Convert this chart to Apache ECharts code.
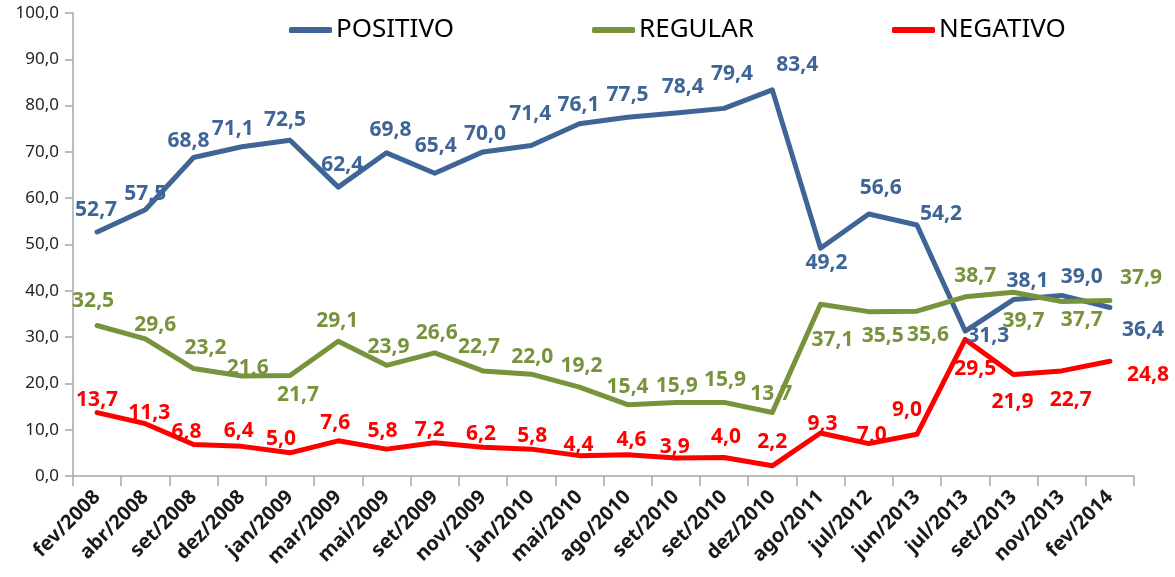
<!DOCTYPE html>
<html>
<head>
<meta charset="utf-8">
<script src="https://cdn.jsdelivr.net/npm/echarts@6/dist/echarts.min.js"></script>
<style>html,body{margin:0;padding:0;background:#fff}#c{width:1175px;height:577px}</style>
</head>
<body>
<div id="c"></div>
<script>
const categories = ['fev/2008','abr/2008','set/2008','dez/2008','jan/2009','mar/2009','mai/2009','set/2009','nov/2009','jan/2010','mai/2010','ago/2010','set/2010','set/2010','dez/2010','ago/2011','jul/2012','jun/2013','jul/2013','set/2013','nov/2013','fev/2014'];
const positivo = [52.7,57.5,68.8,71.1,72.5,62.4,69.8,65.4,70.0,71.4,76.1,77.5,78.4,79.4,83.4,49.2,56.6,54.2,31.3,38.1,39.0,36.4];
const regular  = [32.5,29.6,23.2,21.6,21.7,29.1,23.9,26.6,22.7,22.0,19.2,15.4,15.9,15.9,13.7,37.1,35.5,35.6,38.7,39.7,37.7,37.9];
const negativo = [13.7,11.3,6.8,6.4,5.0,7.6,5.8,7.2,6.2,5.8,4.4,4.6,3.9,4.0,2.2,9.3,7.0,9.0,29.5,21.9,22.7,24.8];
const seriesNames = ['POSITIVO','REGULAR','NEGATIVO'];
const yTicks = {min:0, max:100, interval:10};

// label centre offsets from each point, in pixels [dx, dy] (styling only)
const posOffsets = [[-1,-22],[0,-16],[-5,-16],[-9,-18],[-5,-20],[4,-22],[4,-23],[1,-27],[2,-18],[-1,-31],[-1,-19],[0,-22],[7,-26],[8,-34],[25,-25],[6,15],[12,-26],[24,-11],[23,5],[14,-19],[20,-18],[33,23]];
const regOffsets = [[-4,-25],[10,-14],[12,-21],[6,-8],[8,19],[-1,-20],[2,-18],[2,-20],[-4,-24],[1,-17],[2,-21],[0,-18],[1,-16],[1,-22],[-1,-19],[12,36],[14,24],[11,24],[10,-21],[10,29],[20,19],[31,-23]];
const negOffsets = [[0,-13],[4,-11],[-7,-13],[-3,-15],[-9,-14],[-3,-18],[-4,-18],[-5,-13],[-2,-13],[1,-13],[-1,-11],[4,-15],[-1,-11],[2,-20],[0,-24],[2,-9],[3,-9],[-10,-24],[10,30],[-1,27],[9,29],[38,14]];

const fmt = v => v.toFixed(1).replace('.', ',');
function build(vals, offs){
  return vals.map((v,i)=>({value:v, label:{position:'inside', offset:offs[i]}}));
}
const colors = ['#3F6597','#77933C','#FF0000'];
const labelFont = {fontFamily:'Noto Sans', fontWeight:'bold', fontSize:21};
function mk(name, vals, offs, color){
  return {
    name, type:'line', data:build(vals,offs), symbol:'circle', symbolSize:2, showSymbol:true,
    lineStyle:{color, width:5, cap:'round', join:'round'}, itemStyle:{color},
    label:{show:true, color, formatter:p=>fmt(p.value), ...labelFont},
    emphasis:{disabled:true},
    z: 2
  };
}
const chart = echarts.init(document.getElementById('c'));
chart.setOption({
  animation:false,
  color:colors,
  legend:{
    data:seriesNames, top:12, left:284, itemGap:138, itemWidth:43, itemHeight:6, icon:'roundRect',
    textStyle:{fontFamily:'Noto Sans', fontSize:26, color:'#000', padding:[0,0,0,-1]}
  },
  grid:{left:73, right:41, top:13, bottom:101},
  xAxis:{
    type:'category', data:categories, boundaryGap:true,
    axisLine:{lineStyle:{color:'#A6A6A6', width:1.5}},
    axisTick:{show:true, length:10, lineStyle:{color:'#A6A6A6', width:1.5}},
    axisLabel:{rotate:45, interval:0, margin:18, fontFamily:'Noto Sans', fontWeight:'bold', fontSize:20, color:'#1a1a1a'}
  },
  yAxis:{
    type:'value', min:yTicks.min, max:yTicks.max, interval:yTicks.interval,
    splitLine:{show:false},
    axisLine:{show:true, lineStyle:{color:'#A6A6A6', width:1.5}},
    axisTick:{show:true, length:8, lineStyle:{color:'#A6A6A6', width:1.5}},
    axisLabel:{formatter:v=>fmt(v), margin:14, fontFamily:'Noto Sans', fontSize:17, color:'#222'}
  },
  series:[mk(seriesNames[0],positivo,posOffsets,colors[0]), mk(seriesNames[1],regular,regOffsets,colors[1]), mk(seriesNames[2],negativo,negOffsets,colors[2])]
});
</script>
</body>
</html>
